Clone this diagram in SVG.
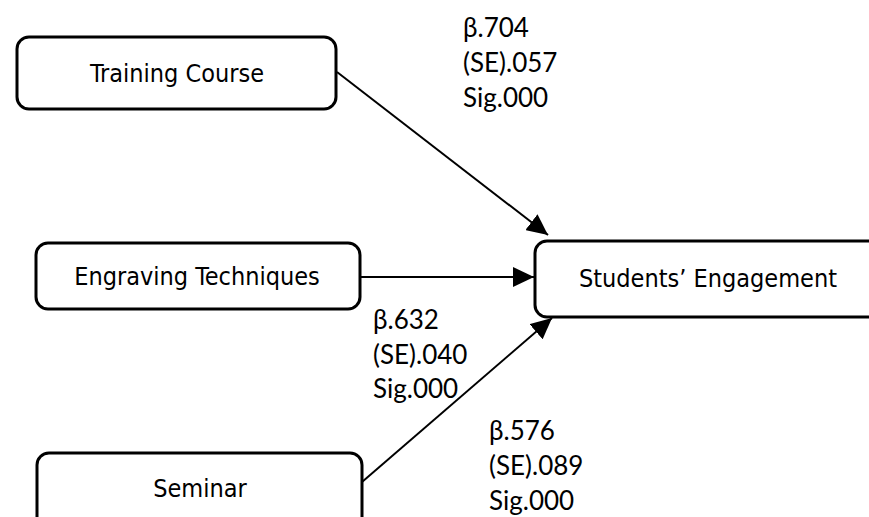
<svg xmlns="http://www.w3.org/2000/svg" width="869" height="517" viewBox="0 0 869 517">
<style>
.box{fill:#fff;stroke:#000;stroke-width:3}
.nt{font-family:"DejaVu Sans Condensed","DejaVu Sans",sans-serif;font-size:25px;fill:#000;text-anchor:middle}
.lb{font-family:Lato,"Open Sans",sans-serif;font-size:26px;fill:#000}
.cn{stroke:#000;stroke-width:2;fill:none;marker-end:url(#ah)}
</style>
<defs>
<marker id="ah" markerUnits="userSpaceOnUse" markerWidth="22" markerHeight="20" refX="21" refY="10" orient="auto" viewBox="0 0 22 20">
<path d="M0,0 L21,10 L0,20 z" fill="#000"/>
</marker>
</defs>
<rect width="869" height="517" fill="#fff"/>
<g id="connectors">
<line class="cn" x1="337" y1="72" x2="548" y2="235"/>
<line class="cn" x1="360" y1="277" x2="534" y2="277"/>
<line class="cn" x1="362" y1="482" x2="552" y2="318"/>
</g>
<g id="training">
<rect class="box" x="17" y="37" width="319" height="72" rx="12"/>
<text class="nt" x="177" y="82">Training Course</text>
</g>
<g id="engraving">
<rect class="box" x="36" y="243" width="324" height="66" rx="12"/>
<text class="nt" x="197" y="285">Engraving Techniques</text>
</g>
<g id="seminar">
<rect class="box" x="37" y="453" width="325" height="90" rx="12"/>
<text class="nt" x="200" y="497">Seminar</text>
</g>
<g id="engagement">
<rect class="box" x="535" y="241" width="360" height="76" rx="12"/>
<text class="nt" x="708" y="287">Students’ Engagement</text>
</g>
<g id="labels">
<text class="lb" x="463" y="37">β.704</text>
<text class="lb" x="463" y="72">(SE).057</text>
<text class="lb" x="463" y="107">Sig.000</text>
<text class="lb" x="373" y="329">β.632</text>
<text class="lb" x="373" y="364">(SE).040</text>
<text class="lb" x="373" y="398">Sig.000</text>
<text class="lb" x="489" y="440">β.576</text>
<text class="lb" x="489" y="475">(SE).089</text>
<text class="lb" x="489" y="510">Sig.000</text>
</g>
</svg>
